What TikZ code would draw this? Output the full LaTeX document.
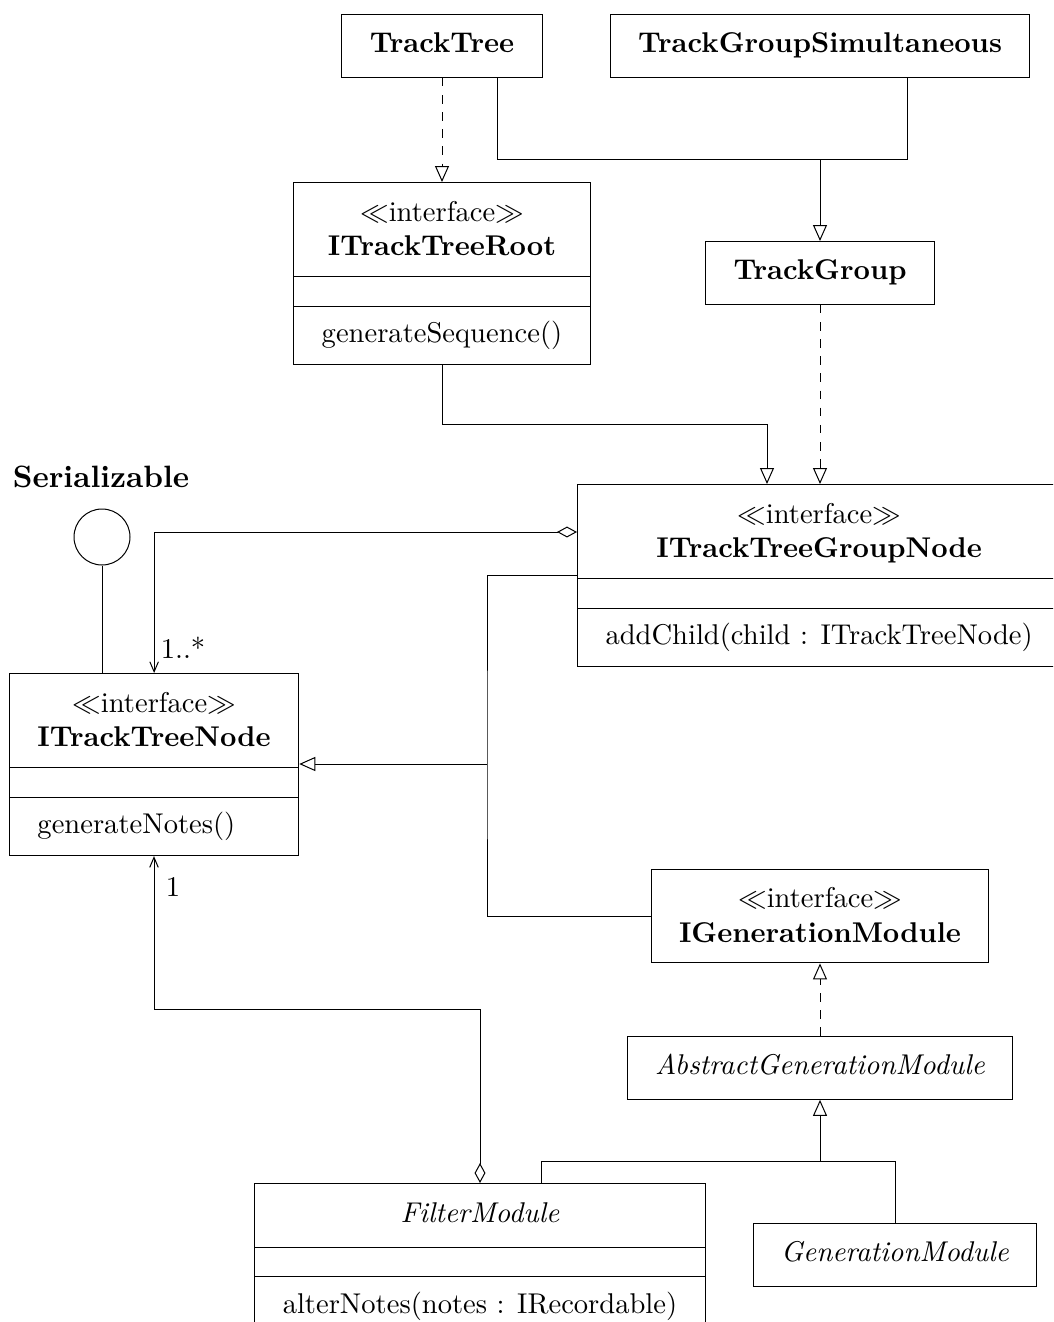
\documentclass[tikz,border=0pt]{standalone}
\usepackage{amsmath, amssymb}
\usepackage{tikz}
\usetikzlibrary{arrows.meta,shapes.multipart}

\newcommand{\interfacetag}{$\ll$interface$\gg$}
\newcommand{\classhead}[1]{\raisebox{0pt}[\height][\dimexpr\depth-1.3pt\relax]{\begin{tabular}{@{}c@{}}\interfacetag\\#1\end{tabular}}}
\newcommand{\noattr}{\rule{0.01pt}{0pt}}

\begin{document}
\begin{tikzpicture}[x=0.35pt, y=-0.35pt, line width=0.35pt,
    box/.style={draw, rectangle, inner xsep=9.8pt, inner ysep=5pt},
    umlclass/.style={box, rectangle split, rectangle split parts=3,
        rectangle split ignore empty parts=false,
        rectangle split part align={center,center,left}},
    inherit/.style={-{Triangle[open,length=5.6pt,width=4.9pt]}},
    realize/.style={inherit, dashed},
    aggr/.style={{Diamond[open,length=7pt,width=3.8pt]}-{Straight Barb[length=3.5pt,width=3pt]}}]
    \useasboundingbox (0,0) rectangle (1053,1322);
    \clip (0,0) rectangle (1053,1322);

    % classes
    \node[box, anchor=north] (TrackTree) at (442,14) {\strut\textbf{TrackTree}};
    \node[box, anchor=north] (TrackGroupSimultaneous) at (820,14) {\strut\textbf{TrackGroupSimultaneous}};
    \node[umlclass, anchor=north] (ITrackTreeRoot) at (442,182)
        {\classhead{\textbf{ITrackTreeRoot}}\nodepart{two}\noattr\nodepart{three}generateSequence()};
    \node[box, anchor=north] (TrackGroup) at (820,241) {\strut\textbf{TrackGroup}};
    \node[umlclass, anchor=north west] (ITrackTreeGroupNode) at (577,484)
        {\classhead{\textbf{ITrackTreeGroupNode}}\nodepart{two}\noattr\nodepart{three}addChild(child : ITrackTreeNode)};
    \node[umlclass, anchor=north west] (ITrackTreeNode) at (9,673)
        {\classhead{\textbf{ITrackTreeNode}}\nodepart{two}\noattr\nodepart{three}generateNotes()};
    \node[box, anchor=north] (IGenerationModule) at (820,869) {\classhead{\textbf{IGenerationModule}}};
    \node[box, anchor=north] (AbstractGenerationModule) at (820,1036) {\strut\textit{AbstractGenerationModule}};
    \node[umlclass, anchor=north] (FilterModule) at (480,1183)
        {\strut\textit{FilterModule}\nodepart{two}\noattr\nodepart{three}alterNotes(notes : IRecordable)};
    \node[box, anchor=north] (GenerationModule) at (895,1223) {\strut\textit{GenerationModule}};

    % lollipop
    \node[draw, circle, minimum size=19.6pt, inner sep=0pt] (Serializable) at (102,537) {};
    \node[font=\fontsize{10.8pt}{13pt}\selectfont\bfseries] (SerializableLabel) at (101,477) {Serializable};
    \draw (Serializable) -- (ITrackTreeNode.north -| Serializable);

    % multiplicities
    \node (manyLabel) at (183,648) {1..*};
    \node (oneLabel) at (173,887) {1};

    % top part
    \coordinate (ttBend) at (497,159);
    \coordinate (tgsBend) at (907,159);
    \coordinate (groupJoin) at (820,159);
    \draw[realize] (TrackTree) -- (ITrackTreeRoot);
    \draw (TrackTree.south -| ttBend) |- (groupJoin);
    \draw (TrackGroupSimultaneous.south -| tgsBend) |- (groupJoin);
    \draw[inherit] (groupJoin) -- (TrackGroup);

    \coordinate (rootBend) at (767,424);
    \draw[inherit] (ITrackTreeRoot.south) |- (rootBend) -- (ITrackTreeGroupNode.north -| rootBend);
    \draw[realize] (TrackGroup) -- (TrackGroup |- ITrackTreeGroupNode.north);

    % middle part
    \coordinate (aggrBend) at (154,532);
    \draw[aggr] (ITrackTreeGroupNode.west |- aggrBend) -| (ITrackTreeNode.north);

    \coordinate (busTop) at (487,575);
    \coordinate (busMid) at (487,764);
    \draw (ITrackTreeGroupNode.west |- busTop) -| (busMid) |- (IGenerationModule.west);
    \draw[inherit] (busMid) -- (ITrackTreeNode.east |- busMid);

    % bottom part
    \draw[realize] (AbstractGenerationModule) -- (IGenerationModule);
    \coordinate (genJoin) at (820,1161);
    \coordinate (filterBend) at (541,1161);
    \draw[inherit] (genJoin) -- (AbstractGenerationModule);
    \draw (FilterModule.north -| filterBend) |- (GenerationModule.north |- genJoin) -- (GenerationModule.north);

    \coordinate (ownerBend) at (154,1009);
    \draw[aggr] (FilterModule.north) |- (ownerBend) -- (ITrackTreeNode.south -| ownerBend);
\end{tikzpicture}
\end{document}
